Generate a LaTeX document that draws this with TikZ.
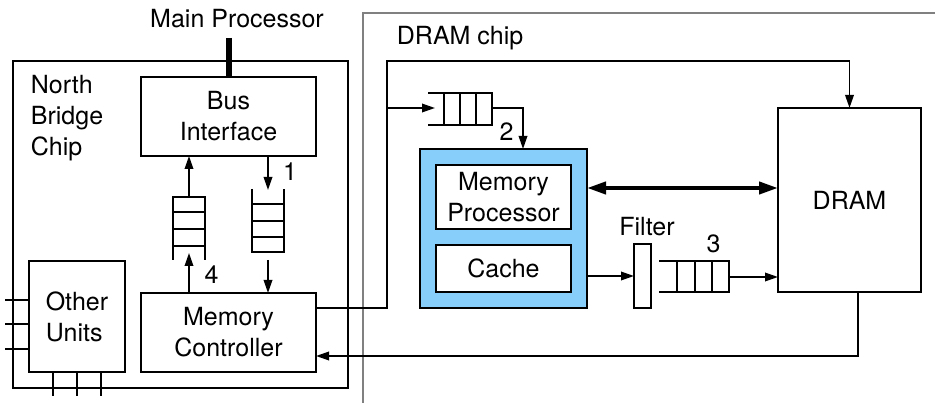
\documentclass[tikz,border=0pt]{standalone}
\usepackage{fontspec}
\setmainfont{TeX Gyre Heros}
\usetikzlibrary{arrows.meta}
\definecolor{procblue}{RGB}{135,206,250}
\definecolor{chipgray}{RGB}{128,128,128}
\begin{document}
\begin{tikzpicture}[x=1pt,y=-1pt,
  font=\fontsize{25}{31}\selectfont,
  line width=1.8pt,
  box/.style={draw, line width=1.8pt, inner sep=0pt, outer sep=0pt, align=center},
  lbl/.style={inner sep=0pt, anchor=base},
  flow/.style={-{Triangle[length=13pt,width=8.5pt]}, line width=1.8pt},
  wide/.style={{Triangle[length=19pt,width=12pt]}-{Triangle[length=19pt,width=12pt]}, line width=4pt},
  queue/.style={line width=1.8pt}
]
\useasboundingbox (0,0) rectangle (935,403);

% DRAM chip outline (open to the right and bottom)
\draw[chipgray, line width=2pt] (363,404) -- (363,13) -- (936,13);
\node[lbl, anchor=base west] (chiplbl) at (396,45) {DRAM chip};

% North bridge chip
\node[box, minimum width=335pt, minimum height=327pt] (nb) at (180.5,224.5) {};
\node[anchor=west, align=left, inner sep=0pt] (nblbl) at (30,118.5) {North\\Bridge\\Chip};

% Main processor bus
\node[lbl] (mainproc) at (237,28) {Main Processor};
\coordinate (mpbar) at (228.5,38);

\node[box, minimum width=175pt, minimum height=79pt] (bus) at (228.5,116.5) {Bus\\Interface};
\node[box, minimum width=175pt, minimum height=79pt] (mc) at (228.5,332.5) {Memory\\Controller};
\node[box, minimum width=96pt, minimum height=111pt, align=left] (other) at (77,316.5) {Other\\Units};

\draw[line width=6pt] (mpbar) -- (bus.north);

% stubs of the other units
\foreach \yy in {300,324,349} \draw (other.west |- 0,\yy) -- ++(-24,0);
\foreach \xx in {53,77,101} \draw (other.south -| \xx,0) -- ++(0,24);

% queue 4 (towards the bus interface)
\draw[queue] (173,260) -- (173,197) -- (205,197) -- (205,260);
\foreach \yy in {212,229,246} \draw[queue] (173,\yy) -- (205,\yy);
\coordinate (q4top) at (189,197);
\coordinate (q4bot) at (189,253);
\draw[flow] (q4top) -- (bus.south -| q4top);
\draw[flow] (mc.north -| q4bot) -- (q4bot);
\node[lbl] (l4) at (211.5,284) {4};

% queue 1 (towards the memory controller)
\draw[queue] (252,189) -- (252,252) -- (284,252) -- (284,189);
\foreach \yy in {204,221,237} \draw[queue] (252,\yy) -- (284,\yy);
\coordinate (q1top) at (268,190);
\coordinate (q1bot) at (268,260);
\draw[flow] (bus.south -| q1top) -- (q1top);
\draw[flow] (q1bot) -- (mc.north -| q1bot);
\node[lbl] (l1) at (290,181) {1};

% DRAM side
\node[box, fill=procblue, minimum width=167pt, minimum height=159pt] (blue) at (503.5,228.5) {};
\node[box, fill=white, minimum width=135pt, minimum height=64pt] (mp) at (503.5,197) {Memory\\Processor};
\node[box, fill=white, minimum width=135pt, minimum height=47pt] (cache) at (503.5,268.5) {Cache};
\node[box, minimum width=143pt, minimum height=184pt] (dram) at (849.5,200) {DRAM};
\node[box, minimum width=17pt, minimum height=64pt] (filter) at (642.5,276) {};
\node[lbl] (filterlbl) at (647,236) {Filter};

% request path from the memory controller
\coordinate (split) at (387,108);
\draw[flow] (mc.east |- 0,308) -- (387,308) |- (dram.north |- 0,61) -- (dram.north);

% queue 2
\draw[queue] (428,93) -- (492,93) -- (492,125) -- (428,125);
\foreach \xx in {444,460,476} \draw[queue] (\xx,93) -- (\xx,125);
\coordinate (q2in) at (435,108);
\coordinate (q2out) at (492,108);
\coordinate (q2turn) at (523,108);
\draw[flow] (split) -- (q2in);
\draw[flow] (q2out) -- (q2turn) -- (q2turn |- blue.north);
\node[lbl] (l2) at (506.5,141) {2};

% memory processor <-> DRAM
\draw[wide] (blue.east |- 0,188) -- (dram.west |- 0,188);

% cache -> filter -> queue 3 -> DRAM
\draw[flow] (blue.east |- filter.west) -- (filter.west);
\draw[queue] (659,261) -- (729,261) -- (729,292) -- (659,292);
\foreach \xx in {677,695,712} \draw[queue] (\xx,261) -- (\xx,292);
\coordinate (q3out) at (729,277);
\draw[flow] (q3out) -- (dram.west |- q3out);
\node[lbl] (l3) at (713.5,253) {3};

% return path to the memory controller
\coordinate (ret) at ([xshift=8.5pt]dram.south);
\draw[flow] (ret) |- (mc.east |- 0,356);
\end{tikzpicture}
\end{document}
